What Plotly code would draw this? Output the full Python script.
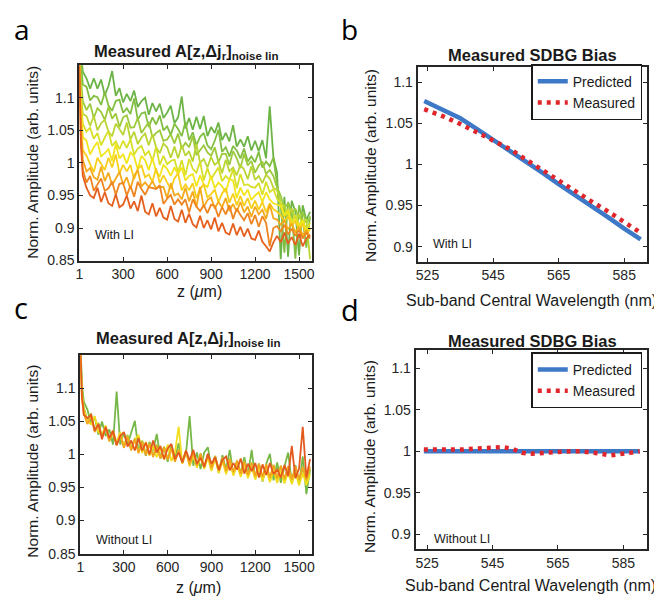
import plotly.graph_objs as go

# depth samples (um) for panels a and c
z = [1, 12, 25, 50, 75, 100, 125, 150, 175, 200, 225, 250, 275, 300, 325, 350, 375, 400, 425, 450,
     475, 500, 525, 550, 575, 600, 625, 650, 675, 700, 725, 750, 775, 800, 825, 850, 875, 900, 925, 950,
     975, 1000, 1025, 1050, 1075, 1100, 1125, 1150, 1175, 1200, 1225, 1250, 1275, 1300, 1325, 1350, 1375,
     1400, 1425, 1450, 1475, 1500, 1525, 1550, 1575]

# panel a: with LI, sub-bands from green (short) to orange (long)
a1 = [1.20, 1.17, 1.14, 1.130, 1.114, 1.130, 1.114, 1.128, 1.104, 1.118, 1.141, 1.103, 1.115, 1.093, 1.106,
      1.095, 1.111, 1.086, 1.095, 1.100, 1.074, 1.092, 1.079, 1.091, 1.069, 1.077, 1.088, 1.061, 1.070, 1.102,
      1.053, 1.069, 1.051, 1.071, 1.052, 1.072, 1.041, 1.055, 1.046, 1.062, 1.035, 1.046, 1.033, 1.058, 1.025,
      1.036, 1.025, 1.041, 1.019, 1.034, 1.018, 1.035, 1.007, 1.087, 1.009, 0.985, 0.852, 0.948, 0.856, 0.942,
      0.925, 0.858, 0.935, 0.912, 0.925]
a2 = [1.19, 1.15, 1.12, 1.117, 1.096, 1.103, 1.101, 1.089, 1.109, 1.088, 1.080, 1.095, 1.097, 1.077, 1.084,
      1.075, 1.099, 1.066, 1.076, 1.078, 1.055, 1.070, 1.059, 1.073, 1.050, 1.056, 1.043, 1.060, 1.052, 1.041,
      1.063, 1.035, 1.047, 1.027, 1.040, 1.046, 1.027, 1.021, 1.034, 1.051, 1.017, 1.024, 1.010, 1.026, 1.019,
      1.007, 1.022, 1.002, 1.010, 1.001, 1.017, 0.993, 1.002, 0.995, 1.008, 0.968, 0.935, 0.862, 0.940, 0.925,
      0.853, 0.935, 0.912, 0.870, 0.918]
a3 = [1.18, 1.13, 1.095, 1.081, 1.091, 1.069, 1.084, 1.078, 1.066, 1.086, 1.068, 1.076, 1.055, 1.070, 1.073,
      1.054, 1.055, 1.069, 1.046, 1.054, 1.063, 1.039, 1.046, 1.050, 1.034, 1.036, 1.044, 1.030, 1.045, 1.022,
      1.031, 1.024, 1.041, 1.012, 1.020, 1.027, 1.016, 1.011, 1.024, 1.001, 1.014, 1.014, 0.997, 1.018, 1.007,
      0.992, 1.014, 0.996, 1.003, 0.985, 0.996, 1.002, 0.983, 0.989, 0.980, 0.962, 0.950, 0.930, 0.938, 0.921,
      0.930, 0.914, 0.924, 0.908, 0.916]
a4 = [1.17, 1.11, 1.075, 1.072, 1.057, 1.072, 1.050, 1.061, 1.066, 1.048, 1.041, 1.060, 1.052, 1.043, 1.062,
      1.036, 1.048, 1.029, 1.039, 1.045, 1.027, 1.044, 1.024, 1.015, 1.030, 1.024, 1.008, 1.025, 1.007, 1.027,
      1.011, 1.018, 1.002, 1.029, 1.000, 1.006, 0.993, 1.009, 0.997, 1.002, 0.984, 1.005, 0.987, 0.993, 0.981,
      0.997, 0.990, 0.975, 0.995, 0.974, 0.980, 0.969, 0.982, 0.976, 0.962, 0.958, 0.938, 0.934, 0.918, 0.930,
      0.913, 0.921, 0.905, 0.914, 0.852]
a5 = [1.16, 1.10, 1.06, 1.048, 1.054, 1.037, 1.046, 1.027, 1.039, 1.049, 1.026, 1.033, 1.021, 1.034, 1.023,
      1.036, 1.013, 1.022, 1.026, 1.012, 1.018, 1.003, 1.025, 0.997, 1.011, 0.998, 1.003, 1.005, 0.986, 1.004,
      0.981, 1.006, 0.991, 0.985, 1.002, 0.973, 0.992, 0.975, 0.984, 0.993, 0.972, 0.980, 0.974, 0.990, 0.961,
      0.983, 0.966, 0.967, 0.963, 0.962, 0.969, 0.951, 0.971, 0.955, 0.960, 0.945, 0.938, 0.922, 0.928, 0.910,
      0.920, 0.905, 0.913, 0.897, 0.908]
a6 = [1.16, 1.09, 1.04, 1.034, 1.013, 1.024, 1.032, 1.010, 1.015, 1.021, 1.003, 1.029, 1.007, 1.013, 0.999,
      1.016, 1.010, 0.990, 1.011, 1.004, 0.989, 1.008, 0.986, 0.980, 0.997, 0.991, 0.980, 0.993, 0.983, 0.993,
      0.973, 0.980, 0.983, 0.964, 0.981, 0.967, 0.963, 0.980, 0.961, 0.970, 0.964, 0.955, 0.975, 0.973, 0.946,
      0.962, 0.950, 0.959, 0.943, 0.950, 0.955, 0.940, 0.955, 0.944, 0.938, 0.936, 0.934, 0.918, 0.925, 0.906,
      0.913, 0.902, 0.911, 0.893, 0.901]
a7 = [1.155, 1.07, 1.02, 1.011, 0.998, 0.986, 1.008, 0.998, 0.989, 1.008, 0.993, 1.013, 0.984, 0.997, 0.987,
      0.997, 0.975, 0.991, 0.996, 0.978, 0.982, 0.971, 0.992, 0.969, 0.981, 0.970, 0.960, 0.976, 0.984, 0.958,
      0.967, 0.958, 0.969, 0.946, 0.960, 0.967, 0.947, 0.952, 0.959, 0.940, 0.953, 0.961, 0.939, 0.953, 0.935,
      0.949, 0.934, 0.946, 0.930, 0.942, 0.928, 0.940, 0.924, 0.938, 0.929, 0.925, 0.920, 0.910, 0.918, 0.903,
      0.911, 0.898, 0.906, 0.890, 0.899]
a8 = [1.15, 1.055, 1.005, 0.987, 0.992, 0.978, 0.974, 0.994, 0.972, 0.985, 0.966, 0.977, 0.986, 0.967, 0.978,
      0.960, 0.980, 0.989, 0.964, 0.970, 0.963, 0.972, 0.961, 0.963, 0.963, 0.946, 0.969, 0.950, 0.953, 0.944,
      0.962, 0.941, 0.956, 0.932, 0.963, 0.932, 0.943, 0.947, 0.930, 0.940, 0.932, 0.946, 0.926, 0.937, 0.925,
      0.940, 0.924, 0.933, 0.917, 0.933, 0.921, 0.928, 0.914, 0.936, 0.915, 0.913, 0.905, 0.912, 0.898, 0.906,
      0.894, 0.902, 0.889, 0.896, 0.887]
a9 = [1.15, 1.04, 0.99, 0.970, 0.980, 0.957, 0.967, 0.976, 0.957, 0.961, 0.971, 0.951, 0.968, 0.969, 0.950,
      0.965, 0.948, 0.971, 0.960, 0.951, 0.963, 0.961, 0.960, 0.966, 0.937, 0.945, 0.951, 0.936, 0.944, 0.936,
      0.944, 0.924, 0.944, 0.933, 0.926, 0.935, 0.923, 0.936, 0.934, 0.917, 0.932, 0.921, 0.935, 0.914, 0.930,
      0.920, 0.912, 0.923, 0.906, 0.920, 0.902, 0.918, 0.908, 0.872, 0.900, 0.903, 0.895, 0.905, 0.890, 0.899,
      0.888, 0.897, 0.884, 0.893, 0.884]
a10 = [1.15, 1.03, 0.98, 0.962, 0.950, 0.946, 0.962, 0.940, 0.955, 0.938, 0.934, 0.952, 0.932, 0.936, 0.950,
       0.930, 0.941, 0.926, 0.950, 0.925, 0.921, 0.938, 0.918, 0.931, 0.916, 0.913, 0.934, 0.914, 0.910, 0.928,
       0.908, 0.922, 0.906, 0.901, 0.919, 0.900, 0.912, 0.898, 0.916, 0.895, 0.908, 0.893, 0.890, 0.907, 0.889,
       0.902, 0.887, 0.899, 0.884, 0.882, 0.896, 0.879, 0.872, 0.864, 0.878, 0.888, 0.878, 0.893, 0.876, 0.886,
       0.874, 0.891, 0.872, 0.884, 0.889]

# panel c: without LI
c1 = [1.18, 1.108, 1.080, 1.068, 1.046, 1.057, 1.030, 1.050, 1.028, 1.038, 1.015, 1.095, 1.015, 1.033, 1.015,
      1.032, 1.051, 1.005, 1.020, 0.998, 1.019, 1.006, 1.031, 0.994, 1.011, 0.989, 1.014, 0.994, 1.017, 0.988,
      1.001, 1.058, 0.983, 1.003, 0.978, 1.003, 1.011, 0.977, 0.997, 0.972, 0.999, 0.977, 1.007, 0.970, 0.989,
      0.972, 0.996, 0.968, 1.007, 0.963, 0.986, 0.959, 0.986, 1.001, 0.961, 0.988, 0.957, 0.982, 1.003, 0.957,
      0.984, 0.954, 0.997, 0.940, 0.978]
c2 = [1.17, 1.10, 1.072, 1.052, 1.062, 1.036, 1.048, 1.027, 1.041, 1.020, 1.035, 1.015, 1.031, 1.012, 1.030,
      1.009, 1.025, 1.004, 1.021, 1.002, 1.017, 0.998, 1.015, 0.995, 1.012, 0.993, 1.011, 0.990, 1.008, 0.987,
      1.006, 0.985, 1.004, 0.982, 1.002, 0.980, 1.000, 0.978, 0.998, 0.975, 0.996, 0.974, 0.994, 0.972, 0.991,
      0.970, 0.990, 0.968, 0.988, 0.966, 0.986, 0.965, 0.985, 0.963, 0.984, 0.962, 0.983, 0.961, 0.982, 0.960,
      0.981, 0.958, 0.980, 0.957, 0.978]
c3 = [1.17, 1.09, 1.068, 1.050, 1.046, 1.058, 1.034, 1.030, 1.044, 1.022, 1.036, 1.018, 1.034, 1.012, 1.026,
      1.008, 1.022, 1.030, 1.002, 1.019, 0.998, 1.013, 0.996, 1.010, 0.992, 1.015, 0.990, 1.003, 1.042, 0.986,
      1.004, 0.982, 0.999, 0.980, 0.996, 0.978, 0.995, 0.975, 0.994, 0.972, 0.990, 0.970, 0.988, 0.968, 0.985,
      0.966, 0.983, 0.964, 0.981, 0.962, 0.979, 0.960, 0.978, 0.958, 0.977, 0.957, 0.975, 0.956, 0.974, 0.955,
      0.973, 0.953, 0.972, 0.954, 0.970]
c4 = [1.16, 1.085, 1.062, 1.046, 1.058, 1.034, 1.046, 1.028, 1.040, 1.020, 1.034, 1.014, 1.030, 1.010, 1.027,
      1.006, 1.023, 1.002, 1.019, 0.999, 1.016, 0.996, 1.013, 0.994, 1.011, 0.992, 1.009, 0.989, 1.007, 0.987,
      1.005, 0.985, 1.003, 0.983, 1.001, 0.981, 0.999, 0.979, 0.997, 0.977, 0.995, 0.975, 0.993, 0.973, 0.991,
      0.971, 0.989, 0.969, 0.987, 0.967, 0.986, 0.966, 0.985, 0.965, 0.984, 0.964, 0.983, 0.963, 0.982, 0.962,
      0.982, 0.962, 0.981, 0.962, 0.982]
c5 = [1.165, 1.09, 1.06, 1.055, 1.060, 1.036, 1.046, 1.023, 1.042, 1.025, 1.036, 1.014, 1.028, 1.034, 1.012,
      1.021, 1.006, 1.025, 1.006, 1.018, 1.000, 1.021, 1.003, 1.013, 0.993, 1.009, 1.016, 0.993, 1.003, 0.988,
      1.006, 0.991, 1.007, 0.986, 0.995, 0.981, 1.001, 0.986, 0.996, 0.976, 0.992, 0.997, 0.976, 0.987, 0.977,
      0.994, 0.971, 0.986, 0.975, 0.987, 0.965, 0.985, 0.969, 0.987, 0.970, 0.977, 0.965, 0.984, 0.967, 1.013,
      0.964, 0.979, 1.042, 0.965, 0.993]

colors_a = ['#6cb446', '#82bf41', '#9dca3b', '#bad534', '#d8df27', '#f2e51c', '#f7cf1a', '#f4aa1c',
            '#ee851f', '#e5601e']
colors_c = ['#78b848', '#a8cf38', '#f2de1c', '#f4a41d', '#e4591d']

# panels b and d: SDBG bias vs sub-band central wavelength
wl_b = [524, 530, 535, 540, 545, 550, 555, 560, 565, 570, 575, 580, 585, 590]
pred_b = [1.077, 1.066, 1.056, 1.043, 1.030, 1.016, 1.003, 0.990, 0.976, 0.963, 0.949, 0.936, 0.922, 0.909]
meas_b = [1.067, 1.058, 1.049, 1.039, 1.030, 1.019, 1.006, 0.993, 0.980, 0.968, 0.955, 0.943, 0.930, 0.917]

wl_d = [524, 527, 530, 533, 536, 539, 542, 545, 548, 551, 554, 557, 560, 563, 566, 569, 572, 575, 578, 581,
        584, 587, 590]
pred_d = [1.0] * len(wl_d)
meas_d = [1.002, 1.002, 1.001, 1.001, 1.002, 1.003, 1.004, 1.005, 1.005, 1.003, 0.998, 0.997, 0.998, 0.999,
          0.999, 1.0, 1.0, 0.999, 0.997, 0.995, 0.996, 0.998, 1.0]

FONT = 'Liberation Sans, Arial, sans-serif'
BLUE = '#3d79c6'
RED = '#e0262c'
DOTS = '4px,5px'

data = []
for ys, col in zip([a1, a2, a3, a4, a5, a6, a7, a8, a9, a10], colors_a):
    data.append(go.Scatter(x=z, y=ys, mode='lines', line={'color': col, 'width': 1.8},
                           showlegend=False, xaxis='x', yaxis='y'))
for ys, col in zip([c1, c2, c3, c4, c5], colors_c):
    data.append(go.Scatter(x=z, y=ys, mode='lines', line={'color': col, 'width': 1.8},
                           showlegend=False, xaxis='x3', yaxis='y3'))

data.append(go.Scatter(x=wl_b, y=pred_b, mode='lines', name='Predicted',
                       line={'color': BLUE, 'width': 4.5}, xaxis='x2', yaxis='y2', legend='legend'))
data.append(go.Scatter(x=wl_b, y=meas_b, mode='lines', name='Measured',
                       line={'color': RED, 'width': 4.5, 'dash': DOTS}, xaxis='x2', yaxis='y2',
                       legend='legend'))
data.append(go.Scatter(x=wl_d, y=pred_d, mode='lines', name='Predicted',
                       line={'color': BLUE, 'width': 4.5}, xaxis='x4', yaxis='y4', legend='legend2'))
data.append(go.Scatter(x=wl_d, y=meas_d, mode='lines', name='Measured',
                       line={'color': RED, 'width': 4.5, 'dash': DOTS}, xaxis='x4', yaxis='y4',
                       legend='legend2'))


def ax(domain, rng, tickvals, anchor):
    return {'domain': domain, 'range': rng, 'tickvals': tickvals, 'anchor': anchor,
            'showline': True, 'linecolor': '#262626', 'linewidth': 2, 'mirror': 'ticks',
            'ticks': 'inside', 'ticklen': 4, 'tickwidth': 1, 'tickcolor': '#262626',
            'showgrid': False, 'zeroline': False,
            'tickfont': {'family': FONT, 'size': 14, 'color': '#262626'}}


W, H = 662, 601


def px(x):
    return x / W


def py(y):
    return 1 - y / H


ann = []


def text(x, y, s, size=14, angle=0, xanchor='center', yanchor='middle', color='#1a1a1a', family=FONT):
    ann.append({'x': px(x), 'y': py(y), 'xref': 'paper', 'yref': 'paper', 'text': s,
                'showarrow': False, 'textangle': angle, 'xanchor': xanchor, 'yanchor': yanchor,
                'font': {'family': family, 'size': size, 'color': color}})


t_a = '<b>Measured A[z,\u0394j<sub>r</sub>]<sub>noise lin</sub></b>'
text(176, 45, t_a, 16.5)
text(178, 335, t_a, 16.5)
text(526, 48, '<b>Measured SDBG Bias</b>', 16.5)
text(526, 337, '<b>Measured SDBG Bias</b>', 16.5)

ylab = 'Norm. Amplitude (arb. units)'
text(21, 156, ylab, 15.5, angle=-90)
text(363, 160, ylab, 15.5, angle=-90)
text(21, 459, ylab, 15.5, angle=-90)
text(362, 455, ylab, 15.5, angle=-90)

text(190, 287, 'z (<i>\u03bc</i>m)', 16)
text(188, 587, 'z (<i>\u03bc</i>m)', 16)
text(525, 296, 'Sub-band Central Wavelength (nm)', 16)
text(524, 585, 'Sub-band Central Wavelength (nm)', 16)

text(82, 230, 'With LI', 12.5, xanchor='left')
text(423, 239, 'With LI', 12.5, xanchor='left')
text(83, 539, 'Without LI', 12.5, xanchor='left')
text(424, 538, 'Without LI', 12.5, xanchor='left')

LET = 'Open Sans, sans-serif'
text(0, 0, 'a', 28, xanchor='left', yanchor='top', color='black', family=LET)
text(330, 0, 'b', 28, xanchor='left', yanchor='top', color='black', family=LET)
text(0, 304, 'c', 29, xanchor='left', color='black', family=LET)
text(330, 306, 'd', 29, xanchor='left', color='black', family=LET)

leg = {'bgcolor': 'white', 'bordercolor': '#1a1a1a', 'borderwidth': 1.5,
       'font': {'family': FONT, 'size': 14, 'color': '#1a1a1a'},
       'xanchor': 'right', 'yanchor': 'top', 'tracegroupgap': 0}

layout = go.Layout(
    width=W, height=H, margin={'l': 0, 'r': 0, 't': 0, 'b': 0},
    paper_bgcolor='white', plot_bgcolor='white',
    xaxis=ax([px(68), px(303)], [1, 1587], [1, 300, 600, 900, 1200, 1500], 'y'),
    yaxis=ax([py(256), py(58)], [0.85, 1.15], [0.85, 0.9, 0.95, 1, 1.05, 1.1], 'x'),
    xaxis2=ax([px(410), px(642)], [522, 592], [525, 545, 565, 585], 'y2'),
    yaxis2=ax([py(257), py(60)], [0.882, 1.118], [0.9, 0.95, 1, 1.05, 1.1], 'x2'),
    xaxis3=ax([px(69), px(303)], [1, 1587], [1, 300, 600, 900, 1200, 1500], 'y3'),
    yaxis3=ax([py(553), py(352)], [0.85, 1.15], [0.85, 0.9, 0.95, 1, 1.05, 1.1], 'x3'),
    xaxis4=ax([px(408), px(642)], [521.5, 592.3], [525, 545, 565, 585], 'y4'),
    yaxis4=ax([py(548), py(347)], [0.8825, 1.1215], [0.9, 0.95, 1, 1.05, 1.1], 'x4'),
    legend=dict(leg, x=px(637), y=py(57)),
    legend2=dict(leg, x=px(637), y=py(349)),
    annotations=ann,
)

fig = go.Figure(data=data, layout=layout)
fig.write_html("out.html")
